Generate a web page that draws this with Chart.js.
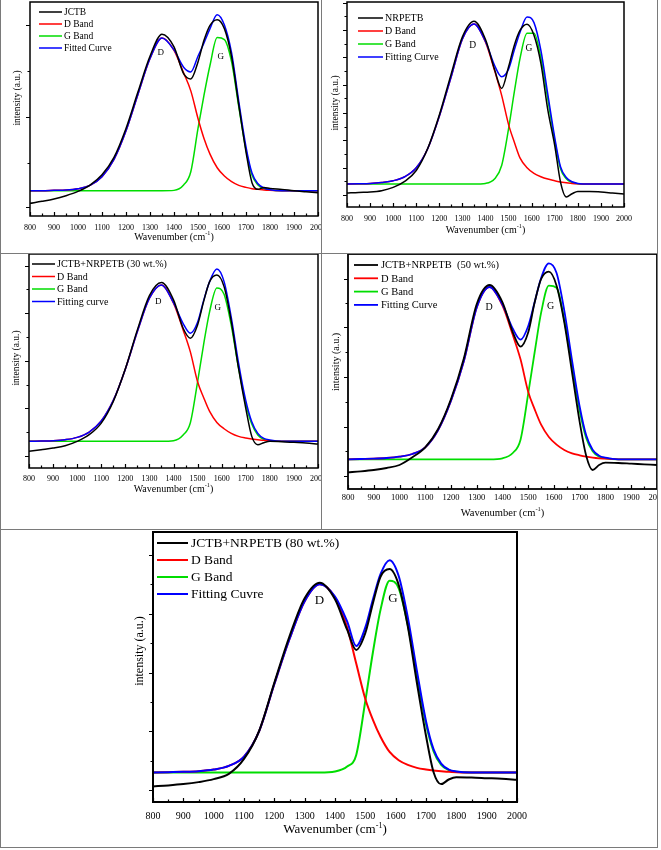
<!DOCTYPE html>
<html>
<head>
<meta charset="utf-8">
<script src="https://cdn.jsdelivr.net/npm/chart.js@4.4.1/dist/chart.umd.min.js"></script>
<style>
body{margin:0;background:#fff;width:661px;height:850px;position:relative;overflow:hidden;}
.cell{position:absolute;overflow:hidden;}
.cell canvas{position:absolute;left:0;top:0;}
.ln{position:absolute;background:#7a7a7a;}
</style>
</head>
<body>
<div class="ln" style="left:0;top:0;width:1px;height:848px"></div>
<div class="ln" style="left:657px;top:0;width:1px;height:848px"></div>
<div class="ln" style="left:321px;top:0;width:1px;height:529px"></div>
<div class="ln" style="left:0;top:253px;width:658px;height:1px"></div>
<div class="ln" style="left:0;top:529px;width:658px;height:1px"></div>
<div class="ln" style="left:0;top:847px;width:658px;height:1px"></div>

<div class="cell" style="left:1px;top:0;width:320px;height:253px"><canvas id="c1" width="320" height="253"></canvas></div>
<div class="cell" style="left:322px;top:0;width:335px;height:253px"><canvas id="c2" width="335" height="253"></canvas></div>
<div class="cell" style="left:1px;top:254px;width:320px;height:275px"><canvas id="c3" width="320" height="275"></canvas></div>
<div class="cell" style="left:322px;top:254px;width:335px;height:275px"><canvas id="c4" width="335" height="275"></canvas></div>
<div class="cell" style="left:1px;top:530px;width:656px;height:317px"><canvas id="c5" width="656" height="317"></canvas></div>

<script>
// wavenumber grid (cm-1) shared by all the spectra
const wavenumbers = [800,850,900,950,1000,1050,1100,1150,1200,1250,1300,1350,1400,1440,1470,1500,1525,1550,1580,1610,1640,1670,1700,1725,1750,1775,1800,1850,1900,1950,2000];
const xTicks = [800,900,1000,1100,1200,1300,1400,1500,1600,1700,1800,1900,2000];

// JCTB
const jctbRaw = [38,44,51,61,74,93,124,176,263,373,480,546,508,428,412,463,528,573,590,563,478,333,193,100,80,86,83,80,76,73,70];
const jctbD   = [76,76,77,78,82,92,118,170,256,366,473,535,498,430,376,293,233,186,145,120,103,92,86,82,80,78,77,76,76,76,76];
const jctbG   = [76,76,76,76,76,76,76,76,76,76,76,76,77,93,133,263,363,453,536,530,463,328,198,123,93,82,78,76,76,76,76];
const jctbFit = [76,76,77,78,82,92,118,170,256,366,473,535,499,447,433,480,520,563,605,574,490,344,208,129,97,84,79,76,76,76,76];

// NRPETB
const nrpRaw = [42,44,45,49,59,77,110,177,277,397,512,559,504,412,357,422,487,532,550,517,432,292,185,75,30,40,47,47,45,42,39];
const nrpD   = [69,70,71,74,79,91,118,176,273,389,506,551,496,409,336,248,195,147,118,101,91,84,79,75,73,71,70,69,69,69,69];
const nrpG   = [69,69,69,69,69,69,69,69,69,69,69,69,71,85,125,236,347,449,523,523,449,324,199,115,85,74,70,69,69,69,69];
const nrpFit = [69,70,71,74,79,91,118,176,273,389,506,551,498,425,392,415,473,527,572,555,471,339,209,121,89,76,71,69,69,69,69];

// JCTB+NRPETB 30 wt.%
const mix30Raw = [50,55,60,67,80,100,135,200,298,415,518,557,505,420,390,430,500,560,580,545,440,300,180,95,70,76,80,79,77,75,72];
const mix30D   = [80,81,82,85,92,108,141,203,297,410,510,550,495,415,349,259,212,170,137,118,104,95,90,87,85,83,82,80,80,80,80];
const mix30G   = [80,80,80,80,80,80,80,80,80,80,80,80,82,99,136,259,371,470,541,522,428,301,193,132,99,86,82,80,80,80,80];
const mix30Fit = [80,81,82,85,92,108,141,203,297,410,510,550,497,434,405,438,503,560,598,560,452,316,203,139,104,89,84,80,80,80,80];

// JCTB+NRPETB 50 wt.%
const mix50Raw = [50,53,57,63,72,95,125,180,270,392,555,612,560,470,427,470,560,630,652,610,500,350,200,100,57,72,79,78,76,74,72];
const mix50D   = [89,90,91,93,97,105,125,177,265,384,545,606,550,462,389,291,239,193,156,133,117,107,101,97,94,92,91,89,89,89,89];
const mix50G   = [89,89,89,89,89,89,89,89,89,89,89,89,92,108,148,287,411,529,610,604,507,368,234,153,113,97,92,89,89,89,89];
const mix50Fit = [89,90,91,93,97,105,125,177,265,384,545,606,553,481,448,489,561,633,677,648,535,386,246,161,118,100,94,89,89,89,89];

// JCTB+NRPETB 80 wt.%
const mix80Raw = [47,50,54,60,69,85,130,215,360,500,615,662,612,520,459,510,600,680,703,655,530,360,200,90,54,68,75,74,72,70,67];
const mix80D   = [89,90,91,93,98,109,137,214,356,492,606,657,617,527,418,311,248,197,151,126,112,103,98,95,93,91,90,89,89,89,89];
const mix80G   = [89,89,89,89,89,89,89,89,89,89,89,89,92,107,142,305,452,580,668,645,534,382,235,153,112,96,91,89,89,89,89];
const mix80Fit = [89,90,91,93,98,109,137,214,356,492,606,657,620,545,471,527,611,688,730,682,557,396,244,159,116,98,92,89,89,89,89];

// peak labels [wavenumber, intensity, text]
const jctbPeaks  = [[1345,490,'D'],[1595,480,'G']];
const nrpPeaks   = [[1345,487,'D'],[1588,477,'G']];
const mix30Peaks = [[1337,500,'D'],[1584,483,'G']];
const mix50Peaks = [[1348,545,'D'],[1587,547,'G']];
const mix80Peaks = [[1349,607,'D'],[1591,614,'G']];

const FONT = "'Liberation Serif', 'Times New Roman', serif";
const COLORS = ['#000000','#ff0000','#00dd00','#0000ff'];

const panels = [
  {id:'c1', series:[jctbRaw,jctbD,jctbG,jctbFit], names:['JCTB','D Band','G Band','Fitted Curve'], peaks:jctbPeaks,
   yMax:643, yMajor:[26,298,573], yMinor:[160,436],
   plot:{l:29,t:2,r:317,b:216}, tickSize:8, tickPad:7, titleSize:10, titleY:237, yTitle:{x:16,y:98,size:9.5},
   leg:{x0:38,x1:61,tx:63,y0:12,dy:12,size:9.5}, peakSize:9, lw:1.5},
  {id:'c2', series:[nrpRaw,nrpD,nrpG,nrpFit], names:['NRPETB','D Band','G Band','Fitting Curve'], peaks:nrpPeaks,
   yMax:617, yMajor:[37,117,202,284,367,450,532,614], yMinor:[77,160,242,327,410,492,574],
   plot:{l:25,t:2,r:302,b:207}, tickSize:8, tickPad:7, titleSize:10, titleY:230, yTitle:{x:13,y:103,size:9.5},
   leg:{x0:36,x1:61,tx:63,y0:18,dy:13,size:10}, peakSize:9.5, lw:1.5},
  {id:'c3', series:[mix30Raw,mix30D,mix30G,mix30Fit], names:['JCTB+NRPETB (30 wt.%)','D Band','G Band','Fitting curve'], peaks:mix30Peaks,
   yMax:643, yMajor:[35,180,322,465,607], yMinor:[108,250,393,537],
   plot:{l:28,t:0,r:317,b:214}, tickSize:8, tickPad:6, titleSize:10, titleY:235, yTitle:{x:15,y:104,size:9.5},
   leg:{x0:31,x1:54,tx:56,y0:10,dy:12.5,size:10}, peakSize:9, lw:1.5},
  {id:'c4', series:[mix50Raw,mix50D,mix50G,mix50Fit], names:['JCTB+NRPETB  (50 wt.%)','D Band','G Band','Fitting Curve'], peaks:mix50Peaks,
   yMax:705, yMajor:[40,187,337,485,629], yMinor:[114,262,412,557],
   plot:{l:26,t:0,r:335,b:235}, tickSize:8.5, tickPad:4, titleSize:10.5, titleY:259, yTitle:{x:14,y:108,size:10},
   leg:{x0:32,x1:56,tx:59,y0:11,dy:13.3,size:10.5}, peakSize:10, lw:1.8},
  {id:'c5', series:[mix80Raw,mix80D,mix80G,mix80Fit], names:['JCTB+NRPETB (80 wt.%)','D Band','G Band','Fitting Cuvre'], peaks:mix80Peaks,
   yMax:815, yMajor:[37,214,390,567,747], yMinor:[124,302,479,657],
   plot:{l:152,t:2,r:516,b:272}, tickSize:10, tickPad:8, titleSize:13, titleY:300, yTitle:{x:139,y:121,size:12},
   leg:{x0:156,x1:187,tx:190,y0:13,dy:17,size:13.5}, peakSize:13, lw:2}
];

const decor = {
  id: 'decor',
  afterDatasetsDraw(chart, args, o) {
    const ctx = chart.ctx, a = chart.chartArea, xs = chart.scales.x, ys = chart.scales.y;
    ctx.save();
    ctx.strokeStyle = '#000';
    ctx.fillStyle = '#000';
    // frame
    ctx.lineWidth = o.lw;
    ctx.strokeRect(a.left, a.top, a.right - a.left, a.bottom - a.top);
    ctx.lineWidth = 1.2;
    // x ticks, pointing inward
    ctx.beginPath();
    for (let v = 800; v <= 2000; v += 50) {
      const px = Math.round(xs.getPixelForValue(v)) + 0.5;
      const len = v % 100 === 0 ? 4 : 2.5;
      ctx.moveTo(px, a.bottom); ctx.lineTo(px, a.bottom - len);
    }
    // y ticks, pointing outward
    o.yMajor.forEach(v => { const py = Math.round(ys.getPixelForValue(v)) + 0.5; ctx.moveTo(a.left, py); ctx.lineTo(a.left - 4, py); });
    o.yMinor.forEach(v => { const py = Math.round(ys.getPixelForValue(v)) + 0.5; ctx.moveTo(a.left, py); ctx.lineTo(a.left - 2.5, py); });
    ctx.stroke();

    // x title with superscript
    ctx.textBaseline = 'middle';
    const big = o.titleSize + 'px ' + FONT, small = (o.titleSize * 0.62) + 'px ' + FONT;
    ctx.font = big;
    const t1 = 'Wavenumber (cm', t3 = ')';
    const w1 = ctx.measureText(t1).width, w3 = ctx.measureText(t3).width;
    ctx.font = small;
    const w2 = ctx.measureText('-1').width;
    let x = (a.left + a.right) / 2 - (w1 + w2 + w3) / 2;
    ctx.textAlign = 'left';
    ctx.font = big; ctx.fillText(t1, x, o.titleY); x += w1;
    ctx.font = small; ctx.fillText('-1', x, o.titleY - o.titleSize * 0.35); x += w2;
    ctx.font = big; ctx.fillText(t3, x, o.titleY);

    // y title
    ctx.save();
    ctx.translate(o.yTitle.x, o.yTitle.y);
    ctx.rotate(-Math.PI / 2);
    ctx.textAlign = 'center';
    ctx.font = o.yTitle.size + 'px ' + FONT;
    ctx.fillText('intensity (a.u.)', 0, 0);
    ctx.restore();

    // legend
    const L = o.leg;
    chart.data.datasets.forEach((ds, i) => {
      const y = L.y0 + i * L.dy;
      ctx.strokeStyle = ds.borderColor;
      ctx.lineWidth = o.lw;
      ctx.beginPath(); ctx.moveTo(L.x0, y); ctx.lineTo(L.x1, y); ctx.stroke();
      ctx.fillStyle = '#000';
      ctx.font = L.size + 'px ' + FONT;
      ctx.textAlign = 'left';
      ctx.fillText(ds.label, L.tx, y + 0.5);
    });

    // peak labels
    ctx.textAlign = 'center';
    ctx.font = o.peakSize + 'px ' + FONT;
    o.peaks.forEach(p => ctx.fillText(p[2], xs.getPixelForValue(p[0]), ys.getPixelForValue(p[1])));
    ctx.restore();
  }
};

panels.forEach(p => {
  const cv = document.getElementById(p.id);
  const W = cv.width, H = cv.height;
  new Chart(cv, {
    type: 'line',
    data: {
      datasets: p.series.map((s, i) => ({
        label: p.names[i],
        data: wavenumbers.map((w, j) => ({x: w, y: s[j]})),
        borderColor: COLORS[i],
        borderWidth: p.lw,
        pointRadius: 0,
        fill: false,
        cubicInterpolationMode: 'monotone',
        order: [0, 2, 3, 1][i]
      }))
    },
    options: {
      responsive: false,
      animation: false,
      events: [],
      layout: {padding: {left: 0, top: p.plot.t, right: W - p.plot.r, bottom: 0}},
      plugins: {
        legend: {display: false},
        tooltip: {enabled: false},
        decor: {lw: p.lw, yMajor: p.yMajor, yMinor: p.yMinor, titleSize: p.titleSize, titleY: p.titleY,
                yTitle: p.yTitle, leg: p.leg, peaks: p.peaks, peakSize: p.peakSize}
      },
      scales: {
        x: {
          type: 'linear', min: 800, max: 2000,
          afterBuildTicks: s => { s.ticks = xTicks.map(v => ({value: v})); },
          ticks: {autoSkip: false, maxRotation: 0, color: '#000', padding: p.tickPad,
                  font: {family: FONT, size: p.tickSize}, callback: v => String(v)},
          grid: {display: false, drawTicks: false},
          border: {display: false},
          afterFit: s => { s.height = H - p.plot.b; s.paddingLeft = 0; s.paddingRight = 0; }
        },
        y: {
          min: 0, max: p.yMax,
          ticks: {display: false},
          grid: {display: false, drawTicks: false},
          border: {display: false},
          afterFit: s => { s.width = p.plot.l; }
        }
      }
    },
    plugins: [decor]
  });
});
</script>
</body>
</html>
